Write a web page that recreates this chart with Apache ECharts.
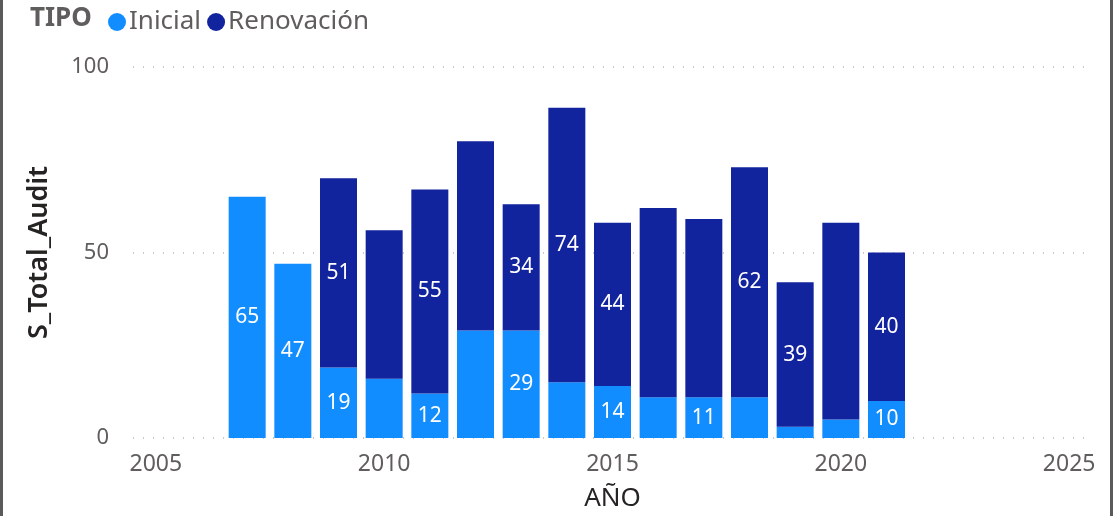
<!DOCTYPE html>
<html>
<head>
<meta charset="utf-8">
<script src="https://cdn.jsdelivr.net/npm/echarts@6/dist/echarts.min.js"></script>
<style>
  html, body { margin: 0; padding: 0; background: #fff; }
  #frame {
    position: absolute; left: 0; top: 0; width: 1113px; height: 516px;
    box-sizing: border-box;
    border-left: 3px solid #5a5a5a;
    border-right: 3px solid #5a5a5a;
    pointer-events: none;
  }
  #chart { position: absolute; left: 0; top: 0; width: 1113px; height: 516px; }
</style>
</head>
<body>
<div id="chart"></div>
<div id="frame"></div>
<script>
// data
const years = [2007, 2008, 2009, 2010, 2011, 2012, 2013, 2014, 2015, 2016, 2017, 2018, 2019, 2020, 2021];
const inicial = [65, 47, 19, 16, 12, 29, 29, 15, 14, 11, 11, 11, 3, 5, 10];
const renovacion = [0, 0, 51, 40, 55, 51, 34, 74, 44, 51, 48, 62, 39, 53, 40];
// which segments carry a data label in the original
const inicialLabeled = [1, 1, 1, 0, 1, 0, 1, 0, 1, 0, 1, 0, 0, 0, 1];
const renovacionLabeled = [0, 0, 1, 0, 1, 0, 1, 1, 1, 0, 0, 1, 1, 0, 1];
// x axis runs over whole years, labelled every 5
const axisYears = [2005, 2006, 2007, 2008, 2009, 2010, 2011, 2012, 2013, 2014, 2015,
  2016, 2017, 2018, 2019, 2020, 2021, 2022, 2023, 2024, 2025];
const xTicks = [2005, 2010, 2015, 2020, 2025];
const yTicks = [0, 50, 100];

const font = '"Segoe UI", "Noto Sans", "Open Sans", sans-serif';
const chart = echarts.init(document.getElementById('chart'));

function makeData(values, labeled) {
  return axisYears.map((y) => {
    const i = years.indexOf(y);
    if (i < 0 || !values[i]) return '-';
    return { value: values[i], label: { show: !!labeled[i] } };
  });
}

const barLabel = {
  position: 'inside',
  color: '#ffffff',
  fontSize: 21,
  fontFamily: font,
};

chart.setOption({
  animation: false,
  color: ['#118DFF', '#12239E'],
  title: {
    text: 'TIPO',
    left: 25,
    top: 1,
    textStyle: { fontFamily: font, fontSize: 26, fontWeight: 'bold', color: '#605E5C' },
  },
  legend: {
    left: 103,
    top: 4,
    icon: 'circle',
    itemWidth: 18,
    itemHeight: 18,
    itemGap: 6,
    textStyle: { fontFamily: font, fontSize: 26, color: '#605E5C', padding: [0, 0, 0, -2] },
    data: ['Inicial', 'Renovación'],
  },
  grid: { left: 133, right: 21, top: 67, bottom: 78, outerBoundsMode: 'none' },
  xAxis: {
    type: 'category',
    data: axisYears,
    name: 'AÑO',
    nameLocation: 'middle',
    nameGap: 48,
    nameTextStyle: { fontFamily: font, fontSize: 26, color: '#252423' },
    axisLine: { show: false },
    axisTick: { show: false },
    splitLine: { show: false },
    axisLabel: {
      interval: (idx, val) => xTicks.includes(Number(val)),
      margin: 15,
      fontFamily: font,
      fontSize: 23,
      color: '#605E5C',
    },
  },
  yAxis: {
    type: 'value',
    min: yTicks[0],
    max: yTicks[yTicks.length - 1],
    interval: 50,
    name: 'S_Total_Audit',
    nameLocation: 'middle',
    nameGap: 80,
    nameTextStyle: { fontFamily: font, fontSize: 27, fontWeight: 600, color: '#252423' },
    axisLine: { show: false },
    axisTick: { show: false },
    axisLabel: { margin: 24, fontFamily: font, fontSize: 22, color: '#605E5C' },
    splitLine: { lineStyle: { type: [1, 9], color: '#C8C8C8', width: 2 } },
  },
  series: [
    {
      name: 'Inicial',
      type: 'bar',
      stack: 'total',
      barWidth: 37,
      label: barLabel,
      data: makeData(inicial, inicialLabeled),
    },
    {
      name: 'Renovación',
      type: 'bar',
      stack: 'total',
      barWidth: 37,
      label: barLabel,
      data: makeData(renovacion, renovacionLabeled),
    },
  ],
});
</script>
</body>
</html>
